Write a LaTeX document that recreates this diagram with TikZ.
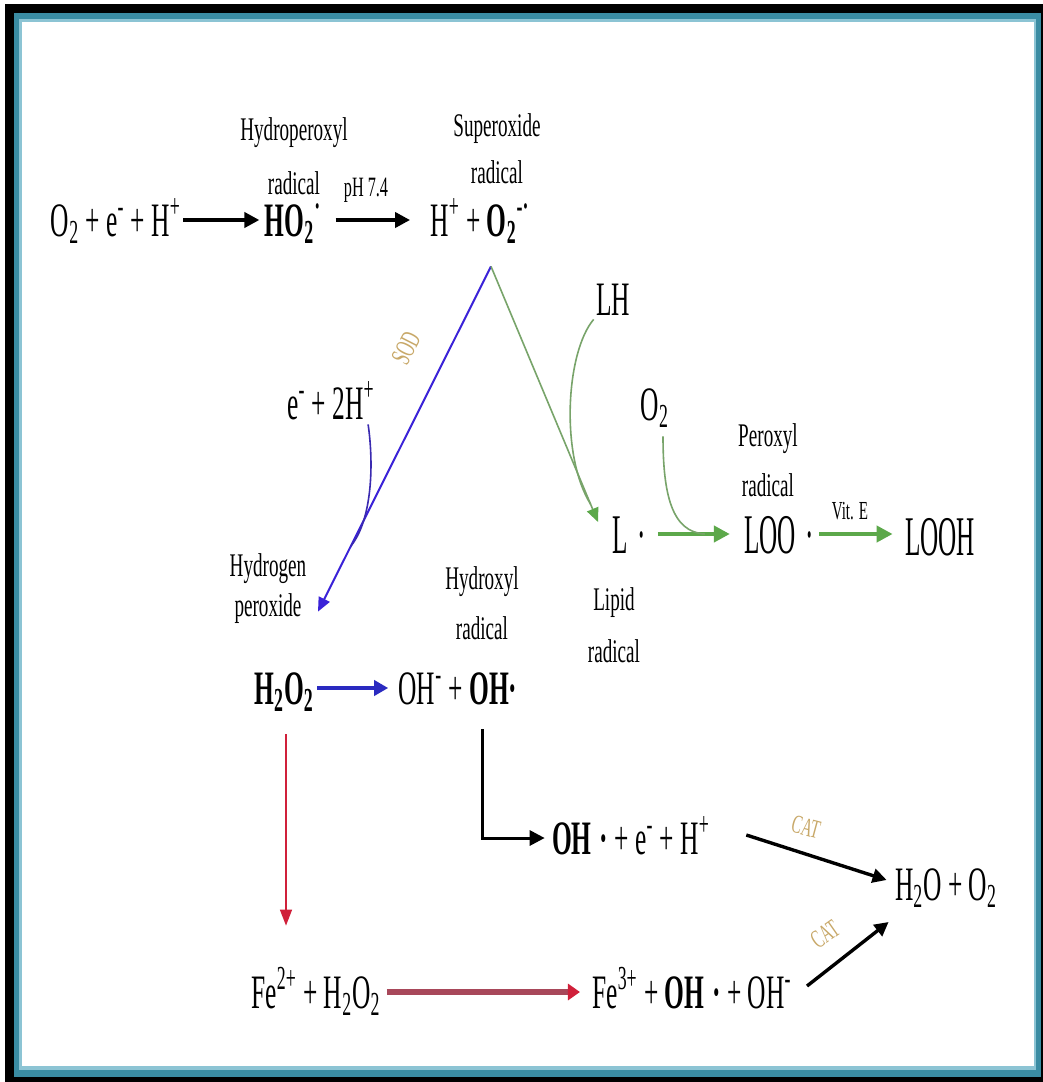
\documentclass[tikz,border=0pt]{standalone}
\usepackage{fontspec}
\usepackage{graphicx}
\setmainfont{Liberation Serif}[FakeStretch=0.58]
\newfontfamily\chemfont{Liberation Serif}[FakeStretch=0.53]
\newfontfamily\bigchemfont{Liberation Serif}[FakeStretch=0.45]
\usetikzlibrary{arrows.meta,calc}
\definecolor{frameteal}{HTML}{3A8CA3}
\definecolor{framelight}{HTML}{8CC4D4}
\definecolor{vblue}{HTML}{3A22D8}
\definecolor{cblue}{HTML}{3A2AB0}
\definecolor{hblue}{HTML}{2A2AC0}
\definecolor{vgreen}{HTML}{78A46A}
\definecolor{agreen}{HTML}{5CA84A}
\definecolor{rred}{HTML}{D0203A}
\definecolor{maroonline}{HTML}{A8485A}
\definecolor{gold}{HTML}{C8A868}
\newcommand\mysub[1]{\textsubscript{#1}}
\newcommand\mysup[1]{\textsuperscript{#1}}
\newcommand\fchem{\chemfont\fontsize{24}{28}\selectfont}
\newcommand\fbig{\bigchemfont\fontsize{28}{31}\selectfont}
\newcommand\fsmall{\fontsize{14}{16}\selectfont}
\begin{document}
\begin{tikzpicture}[x=0.5pt,y=-0.5pt,
  chem/.style={font=\fchem, inner sep=0pt, anchor=base, text height=17pt, text depth=1pt},
  bigchem/.style={font=\fbig, inner sep=0pt, anchor=base, text height=20pt, text depth=1pt},
  lab/.style={align=center, inner sep=0pt},
  smalllab/.style={font=\fsmall, inner sep=0pt},
  blkarrow/.style={line width=2pt, -{Triangle[length=7.5pt,width=7.5pt]}},
  catarrow/.style={line width=1.7pt, -{Triangle[length=7pt,width=7pt]}},
  bluev/.style={vblue, line width=1pt, -{Triangle[length=7pt,width=6pt]}},
  bluecurve/.style={cblue, line width=0.8pt},
  bluearrow/.style={hblue, line width=2pt, -{Triangle[length=7pt,width=7.5pt]}},
  greenv/.style={vgreen, line width=0.8pt, -{Triangle[length=7pt,width=6pt,color=agreen]}},
  greencurve/.style={vgreen, line width=0.8pt},
  greenarrow/.style={agreen, line width=2pt, -{Triangle[length=8pt,width=8pt]}},
  redv/.style={rred, line width=0.8pt, -{Triangle[length=8pt,width=6pt]}},
  redh/.style={maroonline, line width=3pt, -{Triangle[length=6pt,width=8pt,color=rred]}},
  elbow/.style={line width=1.5pt, -{Triangle[length=7.5pt,width=7.5pt]}}
]
\useasboundingbox (0,0) rectangle (1043,1082);
\fill[white] (0,0) rectangle (1043,1082);
\fill[black] (5,4) rectangle (1043,1082);
\fill[frameteal] (14,13) rectangle (1041,1077);
\fill[framelight] (19,19) rectangle (1036,1070);
\fill[white] (22,22) rectangle (1034,1066);

% top row
\node[chem] (r1) at (116,236) {O\mysub{2} + e\mysup{-} + H\mysup{+}};
\node[chem] (ho2) at (293,236) {\bfseries HO\mysub{2}\mysup{·}};
\node[chem] (sup) at (480,236) {H\mysup{+} + \textbf{O\mysub{2}\mysup{-·}}};
\node[lab, font=\fontsize{16.5}{27}\selectfont] (lhp) at (294,156) {Hydroperoxyl\\radical};
\node[lab, font=\fontsize{16.5}{23.5}\selectfont] (lsup) at (497,149) {Superoxide\\radical};
\node[smalllab, anchor=base] (ph) at (366,196) {pH 7.4};

% middle
\node[chem] (e2h) at (331,419) {e\mysup{-} + 2H\mysup{+}};
\node[chem] (lh) at (613,315) {LH};
\node[chem] (o2g) at (655,420) {O\mysub{2}};
\node[lab, font=\fontsize{16.5}{25}\selectfont] (lper) at (768,460) {Peroxyl\\radical};
\node[bigchem] (ld) at (629,553) {L\,·};
\node[bigchem] (loo) at (779,553) {LOO\,·};
\node[bigchem] (looh) at (940,555) {LOOH};
\node[smalllab, anchor=base, font=\fontsize{13}{15}\selectfont] (vite) at (850,519) {Vit. E};
\node[lab, font=\fontsize{16.5}{20}\selectfont] (lhpe) at (268,589) {Hydrogen\\peroxide};
\node[lab, font=\fontsize{16.5}{25}\selectfont] (lhyd) at (482,603) {Hydroxyl\\radical};
\node[lab, font=\fontsize{16.5}{26}\selectfont] (llip) at (614,625) {Lipid\\radical};
\node[smalllab, text=gold, rotate=63] (sod) at (406,348) {SOD};

% lower
\node[chem] (h2o2) at (284,704) {\bfseries H\mysub{2}O\mysub{2}};
\node[chem] (oh) at (458,704) {OH\mysup{-} + \textbf{OH·}};
\node[chem] (ohe) at (631,854) {\textbf{OH\,·} + e\mysup{-} + H\mysup{+}};
\node[chem] (h2o) at (946,900) {H\mysub{2}O + O\mysub{2}};
\node[chem] (fe2) at (316,1008) {Fe\mysup{2+} + H\mysub{2}O\mysub{2}};
\node[chem] (fe3) at (692,1008) {Fe\mysup{3+} + \textbf{OH\,·} + OH\mysup{-}};
\node[smalllab, text=gold, rotate=-15, font=\fontsize{13}{15}\selectfont] (cat1) at (806,827) {CAT};
\node[smalllab, text=gold, rotate=35, font=\fontsize{13}{15}\selectfont] (cat2) at (825,934) {CAT};

% connectors
\draw[blkarrow, shorten <=1pt, shorten >=2.5pt] (r1.east) -- (r1.east -| ho2.west);
\draw[blkarrow, shorten <=7pt, shorten >=10pt] (ho2.east) -- (ho2.east -| sup.west);

\coordinate (apex) at ($(sup.south)+(11,28)$);
\coordinate (btip) at ($(h2o2.north)+(34,-58)$);
\coordinate (gtip) at ($(ld.west)+(-14,-12)$);
\draw[bluev] (apex) -- (btip);
\draw[greenv] (apex) -- (gtip);

\coordinate (bjoin) at ($(apex)!0.81!(btip)$);
\draw[bluecurve] ($(e2h.south east)+(-7,3)$) .. controls (374,465) and (372,520) .. (bjoin);
\coordinate (gjoin) at ($(apex)!0.93!(gtip)$);
\draw[greencurve] ($(lh.south west)+(-2,2)$) .. controls (566,352) and (560,455) .. (gjoin);

\draw[greenarrow, shorten <=6pt, shorten >=7pt] (ld.east) -- (ld.east -| loo.west);
\coordinate (ojoin) at ($(ld.east)!0.6!(loo.west)$);
\draw[greencurve] ($(o2g.south)+(8,14)$) .. controls (663,495) and (672,532) .. (ojoin);
\draw[greenarrow, shorten <=2.5pt, shorten >=6pt] (loo.east) -- (loo.east -| looh.west);

\draw[bluearrow, shorten <=1.5pt, shorten >=5pt] (h2o2.east) -- (h2o2.east -| oh.west);

\coordinate (rstart) at ($(h2o2.south)+(2,28)$);
\draw[redv, shorten >=24pt] (rstart) -- (rstart |- fe2.north);
\draw[redh, shorten <=3pt, shorten >=6pt] (fe2.east) -- (fe2.east -| fe3.west);

\draw[elbow, shorten >=3.5pt] ($(oh.south)+(24,23)$) |- (ohe.west);

\draw[catarrow] ($(ohe.east)+(36,-3)$) -- ($(h2o.west)+(-8,-4)$);
\draw[catarrow] ($(fe3.east)+(15,-6)$) -- ($(h2o.west)+(-6,38)$);
\end{tikzpicture}
\end{document}
